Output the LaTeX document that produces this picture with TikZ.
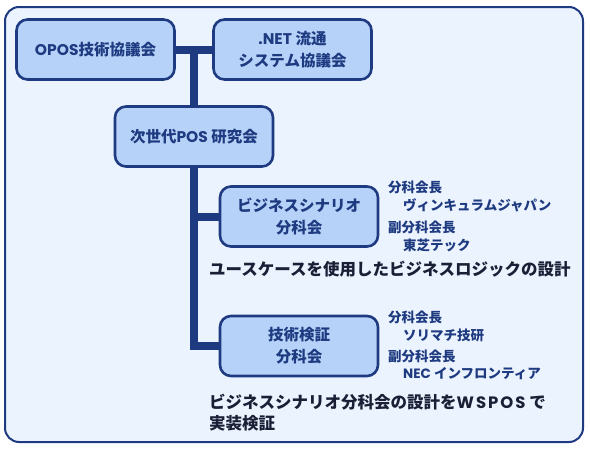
\documentclass[tikz,border=0pt]{standalone}
\usepackage{fontspec}
\setmainfont{Noto Sans CJK JP}
\newfontfamily\latinfont{Poppins}
\newfontfamily\widelatin{Poppins}[LetterSpace=12]
\newcommand{\lat}[1]{{\latinfont #1}}
\definecolor{navy}{HTML}{1E3A80}
\definecolor{boxblue}{HTML}{B7D2F8}
\definecolor{paleblue}{HTML}{EBF3FE}
\definecolor{inkdark}{HTML}{1A1F36}

\begin{document}
\begin{tikzpicture}[x=1pt, y=-1pt,
    org/.style={draw=navy, line width=2.6pt, fill=boxblue, rounded corners=11pt,
        minimum width=158pt, minimum height=60pt, align=center, text=navy,
        font=\fontsize{15.5}{22}\selectfont\bfseries, inner sep=0pt},
    link/.style={draw=navy, line width=8pt},
    role/.style={anchor=west, text=navy, inner sep=0pt, font=\fontsize{13.5}{16}\selectfont\bfseries},
    theme/.style={anchor=west, text=inkdark, inner sep=0pt, align=left,
        font=\fontsize{16.5}{21}\selectfont\bfseries}]
    \useasboundingbox (0,0) rectangle (590,450);
    \draw[draw=navy, line width=2pt, fill=paleblue, rounded corners=14pt] (5,7) rectangle (583,442);
    % links
    \coordinate (top) at (194,49.5);
    \coordinate (low) at (194,346);
    \draw[link] (95,49.5) -- (292,49.5);
    \draw[link] (top) -- (194,137);
    \draw[link] (194,137) -- (low) -- (299,346);
    \draw[link] (194,217) -- (299,217);
    % boxes
    \node[org] (opos) at (95.5,49.5) {\lat{OPOS}技術協議会};
    \node[org] (dotnet) at (292.5,49.5) {\lat{.NET} 流通\\システム協議会};
    \node[org] (jisedai) at (194,136.5) {次世代\lat{POS} 研究会};
    \node[org] (biz) at (299,216.5) {ビジネスシナリオ\\分科会};
    \node[org] (tech) at (299,346) {技術検証\\分科会};
    % side labels
    \node[role] (bizchief) at (388,187) {分科会長};
    \node[role] (bizchiefco) at (403,205) {ヴィンキュラムジャパン};
    \node[role] (bizvice) at (388,227) {副分科会長};
    \node[role] (bizviceco) at (403,245) {東芝テック};
    \node[role] (techchief) at (388,317) {分科会長};
    \node[role] (techchiefco) at (403,335) {ソリマチ技研};
    \node[role] (techvice) at (388,356) {副分科会長};
    \node[role] (techviceco) at (403,374) {\lat{NEC} インフロンティア};
    % themes
    \node[theme] (biztheme) at (209,269) {ユースケースを使用したビジネスロジックの設計};
    \node[theme] (techtheme) at (209,412.5) {ビジネスシナリオ分科会の設計を{\widelatin WSPOS} で\\実装検証};
\end{tikzpicture}
\end{document}
